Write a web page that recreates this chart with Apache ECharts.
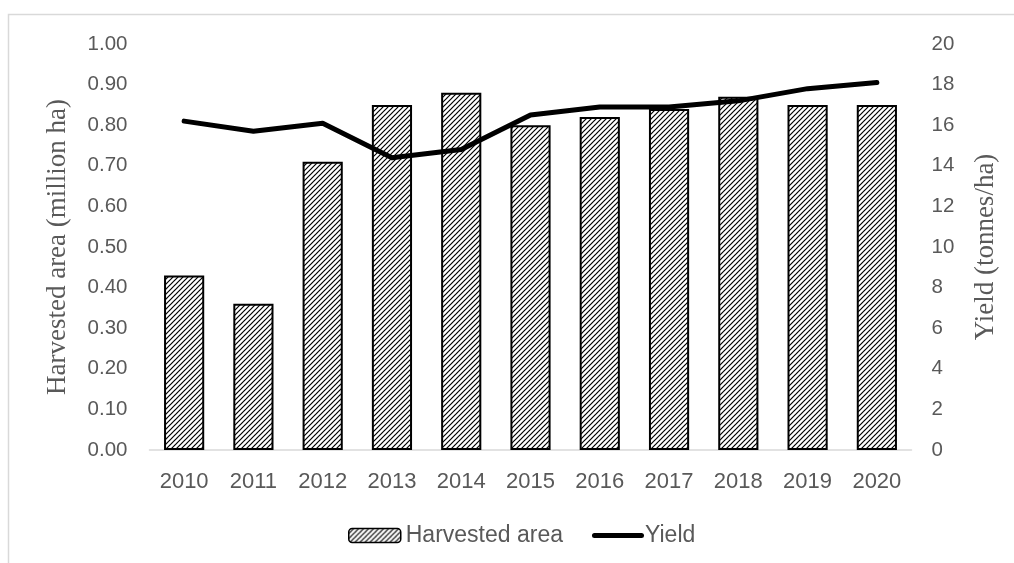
<!DOCTYPE html>
<html><head><meta charset="utf-8">
<script src="https://cdn.jsdelivr.net/npm/echarts@6/dist/echarts.min.js"></script>
<style>html,body{margin:0;padding:0;background:#fff}#c{width:1014px;height:563px}</style>
</head><body><div id="c"></div>
<script>
const years = ['2010','2011','2012','2013','2014','2015','2016','2017','2018','2019','2020'];
const harvestedArea = [0.43,0.36,0.71,0.85,0.88,0.80,0.82,0.84,0.87,0.85,0.85];
const yieldVals = [16.2,15.7,16.1,14.4,14.8,16.5,16.9,16.9,17.2,17.8,18.1];

const tile = document.createElement('canvas');
tile.width = 5; tile.height = 5;
const g = tile.getContext('2d');
g.fillStyle = '#fff'; g.fillRect(0,0,5,5);
g.strokeStyle = '#000'; g.lineWidth = 1.2;
g.beginPath(); g.moveTo(-1,6); g.lineTo(6,-1); g.stroke();
g.beginPath(); g.moveTo(-1,1); g.lineTo(1,-1); g.stroke();
g.beginPath(); g.moveTo(4,6); g.lineTo(6,4); g.stroke();
const pattern = {image: tile, repeat: 'repeat'};

const chart = echarts.init(document.getElementById('c'), null, {renderer:'canvas'});
const sans = 'Liberation Sans, Arial, sans-serif';
const serif = 'Liberation Serif, Times New Roman, serif';
chart.setOption({
  animation:false,
  graphic:[{type:'rect', shape:{x:8.5,y:14.5,width:1020,height:560}, style:{fill:'none', stroke:'#d9d9d9', lineWidth:1.5}, silent:true}],
  grid:{left:149.5, right:102.5, top:44, bottom:113},
  legend:{top:519, left:343, itemGap:29, itemWidth:52, itemHeight:14,
    textStyle:{color:'#595959', fontSize:23, fontFamily:sans, padding:[0,0,0,0]},
    data:[{name:'Harvested area', itemStyle:{color:pattern, borderColor:'#000', borderWidth:1.5}},
          {name:'Yield', icon:'path://M2.5,4.5 L49.5,4.5 A2.5,2.5 0 0 1 49.5,9.5 L2.5,9.5 A2.5,2.5 0 0 1 2.5,4.5 Z', itemStyle:{color:'#000'}, textStyle:{padding:[0,0,0,-4]}}]},
  xAxis:{type:'category', data:years, axisTick:{show:false},
    axisLine:{lineStyle:{color:'#d9d9d9', width:1.5}},
    axisLabel:{margin:21, color:'#595959', fontSize:22, fontFamily:sans}},
  yAxis:[
    {type:'value', min:0, max:1, interval:0.1, name:'Harvested area (million ha)', nameLocation:'middle', nameGap:78,
     nameTextStyle:{color:'#595959', fontSize:27, fontFamily:serif},
     splitLine:{show:false}, axisLine:{show:false}, axisTick:{show:false},
     axisLabel:{margin:22, formatter:v=>v.toFixed(2), color:'#595959', fontSize:20.5, fontFamily:sans}},
    {type:'value', min:0, max:20, interval:2, name:'Yield (tonnes/ha)', nameLocation:'middle', nameGap:61,
     nameTextStyle:{color:'#595959', fontSize:27, fontFamily:serif},
     splitLine:{show:false}, axisLine:{show:false}, axisTick:{show:false},
     axisLabel:{margin:20, align:'left', color:'#595959', fontSize:20.5, fontFamily:sans}}
  ],
  series:[
    {name:'Harvested area', type:'bar', data:harvestedArea, barWidth:'58%', yAxisIndex:0,
     itemStyle:{color:pattern, borderColor:'#000', borderWidth:2}},
    {name:'Yield', type:'line', data:yieldVals, yAxisIndex:1, symbol:'none', z:5,
     lineStyle:{color:'#000', width:5, cap:'round', join:'round'}, itemStyle:{color:'#000'}}
  ]
});
</script></body></html>
